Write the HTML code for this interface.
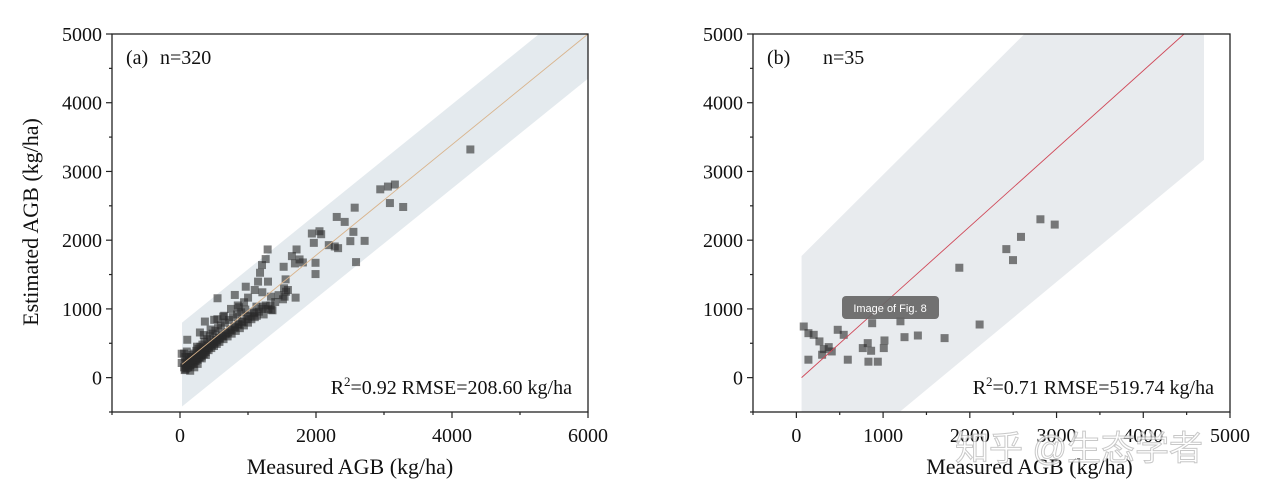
<!DOCTYPE html>
<html><head><meta charset="utf-8"><style>
body{margin:0;background:#fff;width:1265px;height:496px;overflow:hidden}
svg text{font-family:"Liberation Serif",serif;fill:#111}
</style></head><body>
<svg id="chart" width="1265" height="496" xmlns="http://www.w3.org/2000/svg"></svg>
<script>
const ticksA_x=[0,2000,4000,6000];
const ticksB_x=[0,1000,2000,3000,4000,5000];
const ticksY=[0,1000,2000,3000,4000,5000];
const fitA=[[30,194],[6000,5000]];
const fitB=[[60,0],[4470,5000]];
const bandA=[[30,800],[5280,5000],[6000,5000],[6000,4350],[30,-420]];
const bandB=[[60,1770],[2630,5000],[4700,5000],[4700,3170],[1190,-500],[60,-500]];
const ptsA_x=[4270,2945,3058,3160,3087,3282,2569,2305,2422,2550,2505,2715,2589,1939,2051,2076,1968,2188,2276,2325,1993,1993,1289,1260,1206,1177,1148,1294,1099,1714,1646,1758,1690,1807,1524,1553,1211,1338,1587,1538,1700,1514,552,967,806,1001,942,869,1343,1221,1124,1089,1001,635,503,366,293,107,25,25,
60,70,80,90,100,110,120,130,140,150,160,170,180,190,200,210,220,230,240,250,260,270,280,290,300,310,320,330,340,350,360,370,380,400,410,420,440,450,460,480,490,500,520,530,540,560,570,580,600,620,640,660,680,700,720,740,760,780,800,820,840,860,880,900,920,940,960,980,1000,1020,1050,1080,1100,1130,1160,1200,1230,1260,1300,1330,1360,80,150,250,350,450,550,650,750,850,1400,1450,1530,1560,60,100,130,170,210,260,320,380,
70,95,125,155,185,215,245,275,305,335,365,395,430,470,510,550,590,630,670,710,760,810,860,910];
const ptsA_y=[3320,2740,2780,2810,2540,2483,2473,2338,2266,2121,1986,1990,1681,2097,2130,2087,1961,1928,1908,1884,1671,1507,1865,1725,1638,1526,1397,1397,1275,1865,1768,1720,1662,1676,1613,1430,1242,1178,1275,1178,1164,1140,1155,1323,1203,1164,1097,1024,986,1033,1033,936,888,888,841,816,657,551,348,213,
150,230,120,180,260,200,150,300,230,180,280,220,330,260,200,350,290,240,390,310,260,420,340,290,450,370,310,480,400,340,520,430,370,560,460,400,600,490,430,640,520,460,680,550,490,720,580,520,760,610,560,800,650,600,840,690,640,880,730,680,920,770,720,950,810,760,990,850,800,900,850,950,880,900,960,1000,920,1050,1000,1050,980,300,100,450,620,700,850,900,1000,1050,1100,1200,1300,1250,350,380,250,300,150,200,280,330,
110,140,170,190,220,250,270,300,330,350,380,410,440,470,500,540,570,600,630,660,700,740,780,820];
const ptsB_x=[85,139,200,266,373,316,408,297,139,477,546,593,874,823,766,862,831,939,1016,1008,1247,1401,1709,1879,2113,2421,2498,2590,2814,2979,1200];
const ptsB_y=[744,647,623,527,444,415,381,333,261,696,623,261,792,502,430,391,232,232,541,430,589,613,575,1599,773,1870,1710,2048,2304,2227,820];

const svg=document.getElementById('chart');
const NS='http://www.w3.org/2000/svg';
function mk(tag,attrs,parent){const e=document.createElementNS(NS,tag);for(const k in attrs)e.setAttribute(k,attrs[k]);(parent||svg).appendChild(e);return e;}

function panel(cfg){
  const g=mk('g',{});
  
  
  const sx=v=>cfg.x0+(v-cfg.xmin)/(cfg.xmax-cfg.xmin)*(cfg.x1-cfg.x0);
  const sy=v=>cfg.y1-(v-(-500))/(5000-(-500))*(cfg.y1-cfg.y0);
  const cp='clip'+cfg.name;
  const c=mk('clipPath',{id:cp},g);mk('rect',{x:cfg.x0,y:cfg.y0,width:cfg.x1-cfg.x0,height:cfg.y1-cfg.y0},c);
  const band=mk('polygon',{points:cfg.band.map(p=>sx(p[0])+','+sy(p[1])).join(' '),fill:cfg.bandColor,'clip-path':`url(#${cp})`},g);
  
  
  for(let i=0;i<cfg.px.length;i++){
    const r=mk('rect',{x:sx(cfg.px[i])-4,y:sy(cfg.py[i])-4,width:8,height:8,fill:'#2a2a2a','fill-opacity':0.6,'clip-path':`url(#${cp})`},g);
    
    
  }
  const l=mk('line',{x1:sx(cfg.fit[0][0]),y1:sy(cfg.fit[0][1]),x2:sx(cfg.fit[1][0]),y2:sy(cfg.fit[1][1]),stroke:cfg.fitColor,'stroke-width':0.9,'clip-path':`url(#${cp})`},g);
  
  
  const fr=mk('rect',{x:cfg.x0,y:cfg.y0,width:cfg.x1-cfg.x0,height:cfg.y1-cfg.y0,fill:'none',stroke:'#222','stroke-width':1.3},g);
  
  
  ticksY.forEach(v=>{
    mk('line',{x1:cfg.x0-6,x2:cfg.x0,y1:sy(v),y2:sy(v),stroke:'#222','stroke-width':1.2},g);
    mk('line',{x1:cfg.x0-3,x2:cfg.x0,y1:sy(v-500),y2:sy(v-500),stroke:'#222','stroke-width':1.2},g);
    const t=mk('text',{x:cfg.x0-10,y:sy(v)+7,'text-anchor':'end','font-size':20},g);t.textContent=v;
    
    
  });
  cfg.xt.forEach((v,i)=>{
    mk('line',{x1:sx(v),x2:sx(v),y1:cfg.y1,y2:cfg.y1+6,stroke:'#222','stroke-width':1.2},g);
    const t=mk('text',{x:sx(v),y:cfg.y1+30,'text-anchor':'middle','font-size':20},g);t.textContent=v;
    
    
  });
  cfg.minor.forEach(v=>mk('line',{x1:sx(v),x2:sx(v),y1:cfg.y1,y2:cfg.y1+3,stroke:'#222','stroke-width':1.2},g));
  const xl=mk('text',{x:(cfg.x0+cfg.x1)/2+cfg.xlOff,y:474,'text-anchor':'middle','font-size':22},g);xl.textContent='Measured AGB (kg/ha)';
  
  
  const tl=mk('text',{x:cfg.x0+14,y:64,'font-size':20},g);tl.textContent=cfg.tag;
  
  
  const nt=mk('text',{x:cfg.x0+cfg.nOff,y:64,'font-size':20},g);nt.textContent=cfg.n;
  
  
  const st=mk('text',{x:cfg.x1-16,y:394,'text-anchor':'end','font-size':20},g);
  st.innerHTML='R<tspan dy="-8" font-size="13">2</tspan><tspan dy="8">='+cfg.stats+'</tspan>';
  
  
}
panel({name:'panel-a',x0:112,x1:588,y0:34,y1:412,xmin:-1000,xmax:6000,xt:ticksA_x,minor:[-1000,1000,3000,5000],
  band:bandA,bandColor:'#e4eaee',fit:fitA,fitColor:'#d9b48c',px:ptsA_x,py:ptsA_y,tag:'(a)',nOff:48,n:'n=320',stats:'0.92 RMSE=208.60 kg/ha',xlOff:0});
panel({name:'panel-b',x0:753,x1:1230,y0:34,y1:412,xmin:-500,xmax:5000,xt:ticksB_x,minor:[-500,500,1500,2500,3500,4500],
  band:bandB,bandColor:'#e8ebee',fit:fitB,fitColor:'#d04858',px:ptsB_x,py:ptsB_y,tag:'(b)',nOff:70,n:'n=35',stats:'0.71 RMSE=519.74 kg/ha',xlOff:38});
const yl=mk('text',{x:0,y:0,transform:'translate(38,222) rotate(-90)','text-anchor':'middle','font-size':22});yl.textContent='Estimated AGB (kg/ha)';


const tip=mk('g',{});


mk('rect',{x:842,y:296,width:97,height:23,rx:4,fill:'#666','fill-opacity':0.92},tip);
const tt=mk('text',{x:890,y:312,'text-anchor':'middle','font-size':11,style:'font-family:"Liberation Sans",sans-serif;fill:#fff'},tip);tt.textContent='Image of Fig. 8';
const wm=mk('text',{x:955,y:460,'font-size':34,style:'font-family:"Liberation Sans","Noto Sans CJK SC",sans-serif;fill:#fff;stroke:#bbb;stroke-width:1;opacity:0.8'});wm.textContent='知乎 @生态学者';


</script>
</body></html>
